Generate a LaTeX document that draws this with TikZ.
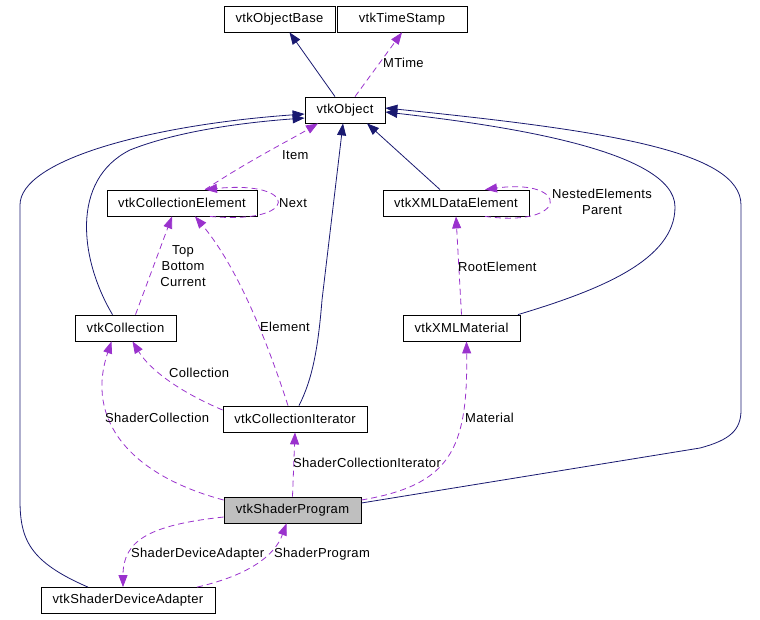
\documentclass[tikz,border=0pt]{standalone}
\usepackage{fontspec}
\setmainfont{Liberation Sans}[LetterSpace=2.5]
\usetikzlibrary{arrows.meta}

\definecolor{inhcol}{HTML}{191970}
\definecolor{usecol}{HTML}{9A32CD}

\tikzset{
  cls/.style={draw, line width=0.8pt, minimum height=26pt, inner sep=0pt, font=\fontsize{13}{16}\selectfont},
  curcls/.style={cls, fill=gray!50},
  lbl/.style={inner sep=0pt, font=\fontsize{13}{16}\selectfont, align=center},
  inherit/.style={draw=inhcol, line width=0.8pt, -{Triangle[length=12pt,width=9pt]}},
  uses/.style={draw=usecol, line width=0.8pt, dash pattern=on 6pt off 4pt, -{Triangle[length=12pt,width=9pt]}}
}

\begin{document}
\begin{tikzpicture}[x=1pt, y=-1pt]
  \useasboundingbox (0,0) rectangle (760,619);

  \node[cls, minimum width=111pt] (objbase) at (279.5, 19) {vtkObjectBase};
  \node[cls, minimum width=130pt] (stamp) at (402, 19) {vtkTimeStamp};
  \node[cls, minimum width=80pt] (obj) at (345, 110) {vtkObject};
  \node[cls, minimum width=150pt] (celem) at (182, 203) {vtkCollectionElement};
  \node[cls, minimum width=146pt] (xmlelem) at (456, 203) {vtkXMLDataElement};
  \node[cls, minimum width=101pt] (coll) at (125.5, 328) {vtkCollection};
  \node[cls, minimum width=117pt] (xmlmat) at (461.5, 328) {vtkXMLMaterial};
  \node[cls, minimum width=144pt] (iter) at (295, 419) {vtkCollectionIterator};
  \node[curcls, minimum width=137pt] (prog) at (292.5, 510) {vtkShaderProgram};
  \node[cls, minimum width=174pt] (adapt) at (128, 600.5) {vtkShaderDeviceAdapter};

  % inheritance
  \draw[inherit] ([xshift=-10pt]obj.north) -- ([xshift=10pt]objbase.south);
  \draw[inherit] ([xshift=-40pt]adapt.north) .. controls (30,562) and (20,540) .. (20,500)
    -- (20,205) .. controls (20,160) and (150,125) .. ([yshift=-4pt]obj.west);
  \draw[inherit] ([xshift=-13pt]coll.north) .. controls (80,260) and (70,180) .. (130,150)
    .. controls (180,130) and (250,122) .. ([yshift=-8pt]obj.west);
  \draw[inherit] ([xshift=4pt]iter.north) .. controls (312,380) and (318,350) .. (322,300)
    -- ([xshift=-2pt]obj.south);
  \draw[inherit] ([xshift=-16pt]xmlelem.north) -- ([xshift=22pt]obj.south);
  \draw[inherit] ([xshift=56.5pt]xmlmat.north) .. controls (600,290) and (675,260) .. (675,207)
    .. controls (675,150) and (500,125) .. ([yshift=-2pt]obj.east);
  \draw[inherit] ([yshift=7pt]prog.east) -- (700,448) .. controls (730,440) and (741,430) .. (741,410)
    -- (741,205) .. controls (741,150) and (600,130) .. ([yshift=2pt]obj.east);

  % members
  \draw[uses] ([xshift=10pt]obj.north) -- (stamp.south);
  \node[lbl, anchor=west] (lmtime) at (383, 63) {MTime};

  \draw[uses] ([xshift=23pt]celem.north) .. controls (250,160) and (290,140) .. ([xshift=-27pt]obj.south);
  \node[lbl, anchor=west] (litem) at (282, 155) {Item};

  \draw[uses] ([xshift=28pt]celem.south) .. controls (300,225) and (300,180) .. ([xshift=23pt]celem.north);
  \node[lbl, anchor=west] (lnext) at (279, 203) {Next};

  \draw[uses] ([xshift=10pt]coll.north) -- ([xshift=-10pt]celem.south);
  \node[lbl] (ltop) at (183, 266) {Top\\Bottom\\Current};

  \draw[uses] ([xshift=-7pt]iter.north) .. controls (270,350) and (240,270) .. ([xshift=13pt]celem.south);
  \node[lbl, anchor=west] (lelem) at (260, 327) {Element};

  \draw[uses] ([yshift=9pt]iter.west) .. controls (180,392) and (150,370) .. ([xshift=7pt]coll.south);
  \node[lbl, anchor=west] (lcoll) at (169, 373) {Collection};

  \draw[uses] ([yshift=10pt]prog.west) .. controls (130,475) and (85,420) .. ([xshift=-14pt]coll.south);
  \node[lbl, anchor=west] (lshcoll) at (105, 418) {ShaderCollection};

  \draw[uses] (prog.north) -- (iter.south);
  \node[lbl, anchor=west] (lshiter) at (293, 463) {ShaderCollectionIterator};

  \draw[uses] ([yshift=10pt]prog.east) .. controls (450,485) and (468,450) .. ([xshift=5pt]xmlmat.south);
  \node[lbl, anchor=west] (lmat) at (465, 418) {Material};

  \draw[uses] (xmlmat.north) -- (xmlelem.south);
  \node[lbl, anchor=west] (lroot) at (458, 267) {RootElement};

  \draw[uses] ([xshift=29pt]xmlelem.south) .. controls (570,228) and (570,178) .. ([xshift=29pt]xmlelem.north);
  \node[lbl] (lnested) at (602, 202) {NestedElements\\Parent};

  \draw[uses] ([yshift=-7pt]prog.west) .. controls (150,525) and (123,540) .. ([xshift=-5pt]adapt.north);
  \node[lbl, anchor=west] (ladapt) at (131, 554) {ShaderDeviceAdapter};

  \draw[uses] ([xshift=69pt]adapt.north) .. controls (250,575) and (275,555) .. ([xshift=-6pt]prog.south);
  \node[lbl, anchor=west] (lprog) at (274, 554) {ShaderProgram};
\end{tikzpicture}
\end{document}
